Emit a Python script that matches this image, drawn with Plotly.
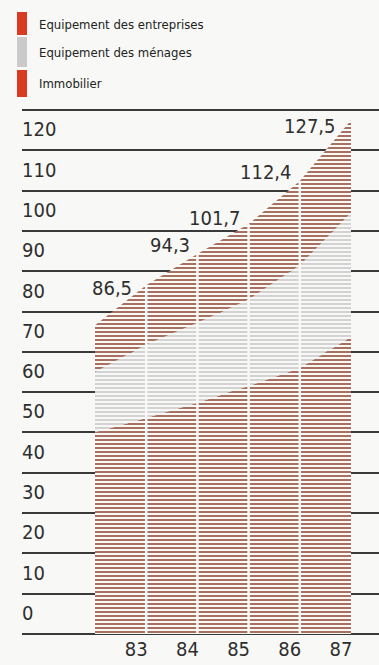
import plotly.graph_objects as go

# ---------------- data ----------------
years = [82, 83, 84, 85, 86, 87]
immobilier = [50.0, 53.6, 57.4, 61.5, 66.0, 73.7]
menages = [15.0, 18.2, 19.8, 21.5, 25.5, 30.8]
entreprises = [11.6, 14.7, 17.1, 18.7, 20.9, 23.0]
total_labels = ["", "86,5", "94,3", "101,7", "112,4", "127,5"]
x_tick_vals = [83, 84, 85, 86, 87]
x_tick_text = ["83", "84", "85", "86", "87"]
y_tick_vals = list(range(0, 140, 10))
y_tick_text = [str(v) for v in range(0, 130, 10)] + [""]
legend_names = ["Equipement des entreprises", "Equipement des ménages", "Immobilier"]

# ---------------- style ----------------
W, H = 379, 665
ML, MR, MT, MB = 22, 0, 102, 27
BG = "#f8f8f6"
RED_HATCH = "#a8705f"
GREY_HATCH = "#d2d2d2"
RED_SWATCH = "#d83a22"
GREY_SWATCH = "#cacaca"
FONT = "DejaVu Sans Condensed, Liberation Sans Narrow, sans-serif"
TXT = "#2e2e2e"

totals = [round(a + b + c, 1) for a, b, c in zip(immobilier, menages, entreprises)]

fig = go.Figure()
for name, vals, col in [("Immobilier", immobilier, RED_HATCH),
                        ("Equipement des ménages", menages, GREY_HATCH),
                        ("Equipement des entreprises", entreprises, RED_HATCH)]:
    fig.add_trace(go.Scatter(
        x=years, y=vals, name=name, stackgroup="one", mode="lines",
        line=dict(width=0),
        fillpattern=dict(shape="-", size=4, solidity=0.5, fgcolor=col, bgcolor=BG, fillmode="replace"),
        showlegend=False, hoverinfo="skip"))

# white separators between yearly strips
for yr, tot in zip(years[1:-1], totals[1:-1]):
    fig.add_shape(type="line", x0=yr, x1=yr, y0=0, y1=tot, xref="x", yref="y",
                  line=dict(color=BG, width=2.5), layer="above")

# value labels
label_offsets = [(0, 0), (-12, -3), (-5, 9), (-6, 6), (-6, 9), (-13, -6)]
for yr, tot, txt, (dx, dy) in zip(years, totals, total_labels, label_offsets):
    if txt:
        fig.add_annotation(x=yr, y=tot, text=txt, showarrow=False, xanchor="right",
                           yanchor="middle", xshift=dx, yshift=dy,
                           font=dict(family=FONT, size=20, color=TXT))

# legend drawn with shapes + text
pw = W - ML - MR
ph = H - MT - MB
def px_x(px):
    return (px - ML) / pw
def px_y(py):
    return (H - MB - py) / ph

swatches = [(12, 35, RED_SWATCH), (37, 67, GREY_SWATCH), (70, 97, RED_SWATCH)]
text_y = [24, 53, 83]
for (y0, y1, col), name, ty in zip(swatches, legend_names, text_y):
    fig.add_shape(type="rect", xref="paper", yref="paper",
                  x0=px_x(17), x1=px_x(27), y0=px_y(y1), y1=px_y(y0),
                  fillcolor=col, line=dict(width=0))
    fig.add_annotation(xref="paper", yref="paper", x=px_x(37), y=px_y(ty), text=name,
                       showarrow=False, xanchor="left", yanchor="middle",
                       font=dict(family=FONT, size=13, color="#222"))

fig.update_layout(
    width=W, height=H, margin=dict(l=ML, r=MR, t=MT, b=MB),
    paper_bgcolor=BG, plot_bgcolor=BG, showlegend=False,
    xaxis=dict(range=[80.574, 87.547], tickvals=x_tick_vals, ticktext=x_tick_text,
               showgrid=False, zeroline=False, showline=False, ticks="",
               ticklabelshift=-10, ticklabelstandoff=-3,
               tickfont=dict(family=FONT, size=20, color=TXT)),
    yaxis=dict(range=[-1, 132], tickvals=y_tick_vals, ticktext=y_tick_text,
               showgrid=True, gridcolor="#3a3a3a", gridwidth=1.5,
               zeroline=True, zerolinecolor="#3a3a3a", zerolinewidth=1.5,
               showline=False, ticks="", ticklabelposition="inside",
               ticklabelshift=-21, ticklabelstandoff=-3,
               tickfont=dict(family=FONT, size=20, color=TXT)),
)

fig.write_html("out.html")
